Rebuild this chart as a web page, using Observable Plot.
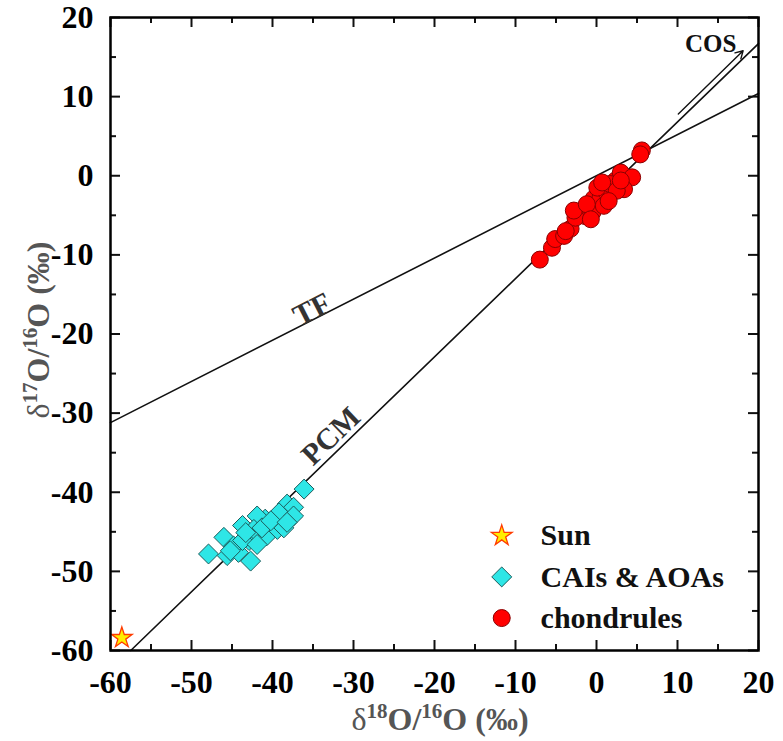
<!DOCTYPE html>
<html>
<head>
<meta charset="utf-8">
<script src="https://cdn.jsdelivr.net/npm/d3@7"></script>
<script src="https://cdn.jsdelivr.net/npm/@observablehq/plot@0.6"></script>
<style>
  body { margin: 0; background: #fff; }
  #chart { width: 783px; }
</style>
</head>
<body>
<div id="chart"></div>
<script>
// ---- data ----
const sunX = [-58.6];
const sunY = [-58.4];

const caiX = [-36.1, -38.2, -37.4, -39.2, -37.4, -40.9, -41.9, -43.7, -46.0, -47.9, -45.6, -44.2, -42.7, -42.9, -40.7, -39.4, -38.6, -42.3, -44.8, -41.3, -40.2, -43.7, -41.9, -45.2, -38.2, -43.3];
const caiY = [-39.6, -41.5, -41.9, -42.6, -43.0, -43.4, -43.0, -44.2, -45.7, -47.8, -48.0, -47.6, -48.7, -46.1, -45.5, -44.7, -44.5, -44.7, -46.8, -44.5, -43.6, -46.1, -46.6, -47.4, -43.8, -45.1];

const chX = [-7.0, -5.5, -5.1, -4.0, -3.2, -2.2, -1.4, -0.5, -0.35, 0.5, 1.1, 0.9, 2.35, 3.0, 4.4, 3.4, 5.6, 5.4, -2.6, -2.8, -1.2, 0.1, 1.7, 2.5, -3.8, -0.7, 0.7, 3.0, 1.5];
const chY = [-10.6, -9.1, -8.0, -7.6, -6.7, -4.6, -5.1, -4.6, -2.9, -2.7, -1.9, -3.8, -0.6, 0.4, -0.2, -1.7, 3.2, 2.7, -5.3, -4.4, -3.6, -1.5, -1.05, -1.9, -7.0, -5.5, -0.85, -0.6, -3.2];

// reference lines (endpoints)
const tfX = [-60, 20];
const tfY = [-31.2, 10.4];
const pcmX = [-57.5, 20];
const pcmY = [-60, 16.7];
const cosX = [10.1, 18.1];
const cosY = [7.8, 15.8];

const majorTicks = [-60, -50, -40, -30, -20, -10, 0, 10, 20];
const minorTicks = [-55, -45, -35, -25, -15, -5, 5, 15];

const legendNames = ["Sun", "CAIs & AOAs", "chondrules"];

// ---- build tables ----
const sun = sunX.map((x, i) => ({x, y: sunY[i]}));
const cai = caiX.map((x, i) => ({x, y: caiY[i]}));
const ch = chX.map((x, i) => ({x, y: chY[i]}));
const tf = tfX.map((x, i) => ({x, y: tfY[i]}));
const pcm = pcmX.map((x, i) => ({x, y: pcmY[i]}));

const W = 783, H = 741;
const mL = 110, mR = 25, mT = 17, mB = 91;
const iW = W - mL - mR, iH = H - mT - mB;
const FONT = "Liberation Serif";

const colors = {
  sunFill: "#ffee00", sunStroke: "#ff3b00",
  caiFill: "#2ee6e6", caiStroke: "#1d5c5c",
  chFill: "#ff0000", chStroke: "#8b0000"
};

// legend positions (data coords)
const legSymX = -11.7, legTxtX = -6.9;
const legY = [-45.5, -50.7, -55.9];

const plot = Plot.plot({
  width: W,
  height: H,
  marginLeft: mL, marginRight: mR, marginTop: mT, marginBottom: mB,
  x: {domain: [-60, 20]},
  y: {domain: [-60, 20]},
  style: {fontFamily: FONT, background: "#fff", overflow: "visible"},
  marks: [
    // lines
    Plot.line(tf, {x: "x", y: "y", stroke: "#111", strokeWidth: 1.6}),
    Plot.line(pcm, {x: "x", y: "y", stroke: "#111", strokeWidth: 1.6}),
    Plot.arrow([0], {x1: () => cosX[0], y1: () => cosY[0], x2: () => cosX[1], y2: () => cosY[1],
      stroke: "#111", strokeWidth: 1.4, headLength: 9}),
    // labels on lines
    Plot.text(["TF"], {x: () => -35.1, y: () => -16.9, text: d => d, rotate: -27,
      fontFamily: FONT, fontSize: 30, fontWeight: "bold", fill: "#333", textAnchor: "middle", lineAnchor: "middle"}),
    Plot.text(["PCM"], {x: () => -32.8, y: () => -32.9, text: d => d, rotate: -44,
      fontFamily: FONT, fontSize: 30, fontWeight: "bold", fill: "#333", textAnchor: "middle", lineAnchor: "middle"}),
    Plot.text(["COS"], {x: () => 14.1, y: () => 16.6, text: d => d,
      fontFamily: FONT, fontSize: 25, fontWeight: "bold", fill: "#111", textAnchor: "middle", lineAnchor: "middle"}),
    // data
    Plot.dot(cai, {x: "x", y: "y", symbol: "diamond2", r: 9, fill: colors.caiFill, stroke: colors.caiStroke, strokeWidth: 1}),
    Plot.dot(ch, {x: "x", y: "y", r: 8.5, fill: colors.chFill, stroke: colors.chStroke, strokeWidth: 1}),
    Plot.dot(sun, {x: "x", y: "y", symbol: "star", r: 6.5, fill: colors.sunFill, stroke: colors.sunStroke, strokeWidth: 1.3}),
    // legend
    Plot.dot([0], {x: () => legSymX, y: () => legY[0], symbol: "star", r: 6.5, fill: colors.sunFill, stroke: colors.sunStroke, strokeWidth: 1.3}),
    Plot.dot([0], {x: () => legSymX, y: () => legY[1], symbol: "diamond2", r: 9, fill: colors.caiFill, stroke: colors.caiStroke, strokeWidth: 1}),
    Plot.dot([0], {x: () => legSymX, y: () => legY[2], r: 8.5, fill: colors.chFill, stroke: colors.chStroke, strokeWidth: 1}),
    Plot.text(legendNames, {x: () => legTxtX, y: (d, i) => legY[i], text: d => d,
      fontFamily: FONT, fontSize: 30, fontWeight: "bold", fill: "#111", textAnchor: "start", lineAnchor: "middle"}),
    // ticks (inward) on all four sides
    Plot.tickX(majorTicks, {x: d => d, insetTop: iH - 10, stroke: "#111", strokeWidth: 2}),
    Plot.tickX(minorTicks, {x: d => d, insetTop: iH - 6, stroke: "#111", strokeWidth: 2}),
    Plot.tickX(majorTicks, {x: d => d, insetBottom: iH - 10, stroke: "#111", strokeWidth: 2}),
    Plot.tickX(minorTicks, {x: d => d, insetBottom: iH - 6, stroke: "#111", strokeWidth: 2}),
    Plot.tickY(majorTicks, {y: d => d, insetRight: iW - 10, stroke: "#111", strokeWidth: 2}),
    Plot.tickY(minorTicks, {y: d => d, insetRight: iW - 6, stroke: "#111", strokeWidth: 2}),
    Plot.tickY(majorTicks, {y: d => d, insetLeft: iW - 10, stroke: "#111", strokeWidth: 2}),
    Plot.tickY(minorTicks, {y: d => d, insetLeft: iW - 6, stroke: "#111", strokeWidth: 2}),
    // tick labels
    Plot.axisX({ticks: majorTicks, tickSize: 0, tickPadding: 20, tickFormat: d => String(d), label: null,
      fontFamily: FONT, fontSize: 32, fontWeight: "bold", fill: "#000"}),
    Plot.axisY({ticks: majorTicks, tickSize: 0, tickPadding: 17, tickFormat: d => String(d), label: null,
      fontFamily: FONT, fontSize: 32, fontWeight: "bold", fill: "#000"}),
    Plot.frame({stroke: "#000", strokeWidth: 2.5})
  ]
});

const svg = d3.select(plot);
svg.selectAll("text").style("font-variant", "normal").style("font-family", FONT);

function addTitle(g, parts) {
  parts.forEach(p => {
    const t = g.append("tspan").text(p.t);
    if (p.sup) t.attr("font-size", "21").attr("dy", "-12");
    else if (p.after) t.attr("dy", "12");
    if (p.thin) t.attr("font-weight", "normal");
  });
}

// x axis title
const xt = svg.append("text")
  .attr("x", 440).attr("y", 730)
  .attr("text-anchor", "middle")
  .style("font-family", FONT).attr("font-size", 32).attr("font-weight", "bold").attr("fill", "#555");
addTitle(xt, [
  {t: "δ", thin: true}, {t: "18", sup: true}, {t: "O/", after: true}, {t: "16", sup: true}, {t: "O (‰)", after: true}
]);

// y axis title
const yt = svg.append("text")
  .attr("transform", "translate(49,330) rotate(-90)")
  .attr("text-anchor", "middle")
  .style("font-family", FONT).attr("font-size", 32).attr("font-weight", "bold").attr("fill", "#555");
addTitle(yt, [
  {t: "δ", thin: true}, {t: "17", sup: true}, {t: "O/", after: true}, {t: "16", sup: true}, {t: "O (‰)", after: true}
]);

document.getElementById("chart").appendChild(plot);
</script>
</body>
</html>
